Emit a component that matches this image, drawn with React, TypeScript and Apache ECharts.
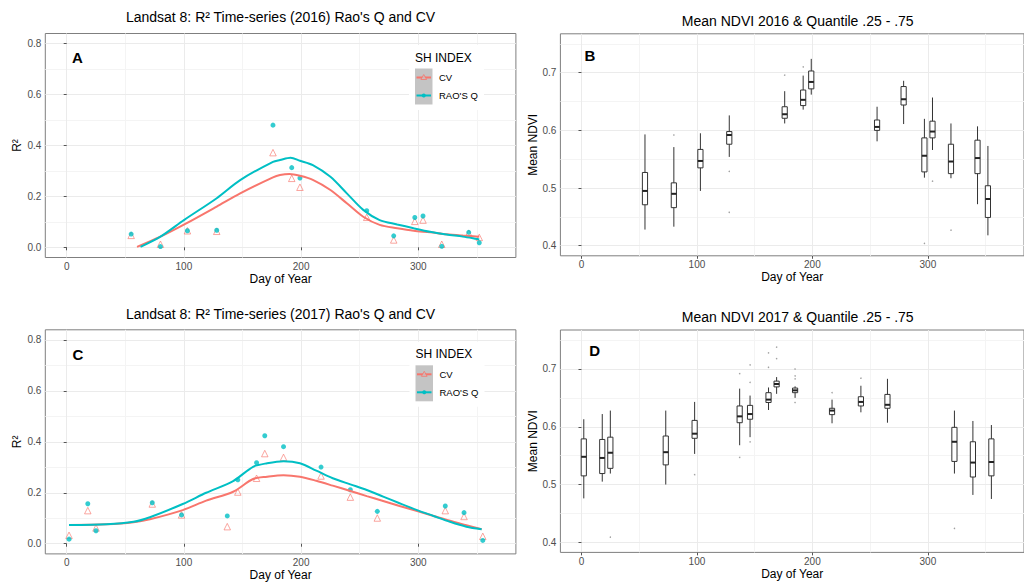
import React, { useEffect, useRef } from "react";
import * as echarts from "echarts";

const FONT = "'Liberation Sans', Arial, sans-serif";
const RED = "#F8766D";
const CYAN = "#00BFC4";

// ---------- Panel A (2016) ----------
const daysA = [55, 80, 103, 128, 176, 192, 199, 256, 279, 297, 304, 320, 343, 352];
const raoA = [0.052, 0.003, 0.065, 0.067, 0.48, 0.313, 0.272, 0.144, 0.045, 0.117, 0.123, 0.004, 0.059, 0.018];
const cvA = [0.047, 0.012, 0.065, 0.063, 0.372, 0.271, 0.236, 0.118, 0.029, 0.102, 0.107, 0.012, 0.055, 0.039];
const smDaysRaoA = [63, 80, 100, 128, 148, 176, 182, 191, 199, 210, 225, 239, 253, 267, 282, 296, 310, 324, 338, 352];
const smRaoA = [0.002, 0.042, 0.107, 0.193, 0.264, 0.336, 0.343, 0.352, 0.34, 0.323, 0.277, 0.212, 0.147, 0.107, 0.09, 0.075, 0.061, 0.05, 0.042, 0.031];
const smDaysCvA = [60, 80, 102, 128, 148, 176, 182, 190, 199, 210, 225, 239, 253, 267, 282, 296, 310, 324, 338, 352];
const smCvA = [0.002, 0.042, 0.094, 0.16, 0.212, 0.275, 0.284, 0.288, 0.281, 0.265, 0.225, 0.173, 0.12, 0.088, 0.075, 0.065, 0.059, 0.051, 0.046, 0.042];

// ---------- Panel C (2017) ----------
const daysC = [2, 18, 25, 73, 98, 137, 146, 162, 169, 185, 217, 242, 265, 323, 339, 355];
const raoC = [0.018, 0.157, 0.051, 0.161, 0.113, 0.109, 0.251, 0.318, 0.424, 0.381, 0.301, 0.212, 0.127, 0.148, 0.122, 0.013];
const cvC = [0.033, 0.13, 0.062, 0.156, 0.113, 0.067, 0.203, 0.257, 0.354, 0.339, 0.266, 0.183, 0.101, 0.13, 0.107, 0.029];
const smDaysC = [2, 34, 57, 71, 99, 119, 142, 159, 171, 185, 199, 213, 227, 242, 256, 270, 284, 299, 313, 327, 341, 354];
const smRaoC = [0.073, 0.076, 0.086, 0.104, 0.156, 0.2, 0.246, 0.302, 0.316, 0.324, 0.316, 0.287, 0.257, 0.233, 0.211, 0.185, 0.159, 0.132, 0.109, 0.086, 0.067, 0.057];
const smCvC = [0.073, 0.076, 0.084, 0.096, 0.132, 0.169, 0.204, 0.254, 0.263, 0.269, 0.263, 0.247, 0.228, 0.207, 0.187, 0.168, 0.148, 0.128, 0.109, 0.09, 0.073, 0.057];

// ---------- Panel B (NDVI 2016) : [day, low, q1, median, q3, high] ----------
const boxesB = [
  [55, 0.428, 0.471, 0.495, 0.527, 0.593],
  [80, 0.433, 0.466, 0.49, 0.509, 0.571],
  [103, 0.495, 0.535, 0.547, 0.567, 0.595],
  [128, 0.554, 0.576, 0.592, 0.598, 0.626],
  [176, 0.612, 0.621, 0.628, 0.641, 0.668],
  [192, 0.636, 0.643, 0.653, 0.67, 0.695],
  [199, 0.662, 0.672, 0.684, 0.703, 0.724],
  [256, 0.581, 0.6, 0.606, 0.618, 0.641],
  [279, 0.611, 0.644, 0.654, 0.676, 0.686],
  [297, 0.518, 0.528, 0.556, 0.587, 0.62],
  [304, 0.566, 0.587, 0.598, 0.616, 0.657],
  [320, 0.517, 0.525, 0.546, 0.576, 0.612],
  [343, 0.472, 0.525, 0.552, 0.583, 0.607],
  [352, 0.418, 0.449, 0.481, 0.504, 0.573],
];
const outliersB = [
  [80, 0.592], [128, 0.529], [128, 0.458], [176, 0.696], [192, 0.71], [297, 0.404], [304, 0.512], [320, 0.427],
];

// ---------- Panel D (NDVI 2017) ----------
const boxesD = [
  [2, 0.476, 0.515, 0.548, 0.579, 0.613],
  [18, 0.505, 0.519, 0.546, 0.578, 0.622],
  [25, 0.519, 0.528, 0.555, 0.582, 0.628],
  [73, 0.5, 0.534, 0.556, 0.584, 0.628],
  [98, 0.553, 0.58, 0.588, 0.611, 0.643],
  [137, 0.568, 0.607, 0.618, 0.636, 0.666],
  [146, 0.582, 0.613, 0.622, 0.637, 0.654],
  [162, 0.629, 0.642, 0.647, 0.659, 0.668],
  [169, 0.657, 0.669, 0.674, 0.679, 0.686],
  [185, 0.65, 0.659, 0.663, 0.667, 0.67],
  [217, 0.606, 0.621, 0.628, 0.632, 0.647],
  [242, 0.625, 0.636, 0.643, 0.652, 0.671],
  [265, 0.607, 0.632, 0.638, 0.656, 0.683],
  [323, 0.519, 0.54, 0.574, 0.599, 0.628],
  [339, 0.482, 0.513, 0.538, 0.574, 0.61],
  [355, 0.475, 0.515, 0.539, 0.579, 0.603],
];
const outliersD = [
  [25, 0.409], [98, 0.517], [137, 0.692], [137, 0.547], [146, 0.707], [146, 0.677], [146, 0.574],
  [162, 0.728], [162, 0.703], [169, 0.738], [169, 0.718], [185, 0.7], [185, 0.688], [185, 0.683],
  [185, 0.642], [217, 0.659], [242, 0.684], [323, 0.424],
];

// ---------- Axes ----------
const xRange = [-18.25, 383.25];
const r2Range = [-0.04, 0.84];
const ndviRange = [0.3825, 0.7675];
const xMajorTicks = [0, 100, 200, 300];
const xMinorTicks = [50, 150, 250, 350];
const r2MajorTicks = [0, 0.2, 0.4, 0.6, 0.8];
const r2MinorTicks = [0.1, 0.3, 0.5, 0.7];
const ndviMajorTicks = [0.4, 0.5, 0.6, 0.7];
const ndviMinorTicks = [0.45, 0.55, 0.65, 0.75];

const titles = [
  "Landsat 8: R² Time-series (2016) Rao's Q and CV",
  "Mean NDVI 2016 & Quantile .25 - .75",
  "Landsat 8: R² Time-series (2017) Rao's Q and CV",
  "Mean NDVI 2017 & Quantile .25 - .75",
];
const panelLetters = ["A", "B", "C", "D"];
const legendTitle = "SH INDEX";
const legendItems = ["CV", "RAO'S Q"];

const zip = (a: number[], b: number[]) => a.map((v, i) => [v, b[i]]);

const grids = [
  { left: 45.3, right: 508.1, top: 33.5, bottom: 327.5 },
  { left: 560.4, right: -10.6, top: 33.8, bottom: 329.2 },
  { left: 45.3, right: 508.1, top: 329.8, bottom: 31.1 },
  { left: 560.4, right: -10.6, top: 330, bottom: 32.6 },
];

const tickCol = "#555";
const labelStyle = { color: "#4D4D4D", fontSize: 10, fontFamily: FONT };

function xAxes(gi: number) {
  return [
    {
      type: "value", gridIndex: gi, min: xRange[0], max: xRange[1], z: 2,
      axisLine: { show: false },
      axisTick: { show: true, length: 3, lineStyle: { color: tickCol }, customValues: xMajorTicks },
      axisLabel: { ...labelStyle, margin: 4, customValues: xMajorTicks },
      splitLine: { show: true, lineStyle: { color: "#EBEBEB", width: 1 } },
      name: "Day of Year", nameLocation: "middle", nameGap: 15.5,
      nameTextStyle: { color: "#000", fontSize: 12, fontFamily: FONT },
    },
    {
      type: "value", gridIndex: gi, min: xRange[0], max: xRange[1], z: 1, position: "bottom",
      axisLine: { show: false },
      axisTick: { show: false, customValues: xMinorTicks },
      axisLabel: { show: false, customValues: xMinorTicks },
      splitLine: { show: true, lineStyle: { color: "#F4F4F4", width: 1 } },
    },
  ];
}

function yAxes(gi: number, range: number[], major: number[], minor: number[], name: string, gap: number, dec: number) {
  return [
    {
      type: "value", gridIndex: gi, min: range[0], max: range[1], z: 2,
      axisLine: { show: false },
      axisTick: { show: true, length: 3, lineStyle: { color: tickCol }, customValues: major },
      axisLabel: { ...labelStyle, margin: 4, customValues: major, formatter: (v: number) => v.toFixed(dec) },
      splitLine: { show: true, lineStyle: { color: "#EBEBEB", width: 1 } },
      name, nameLocation: "middle", nameGap: gap, nameRotate: 90,
      nameTextStyle: { color: "#000", fontSize: 12, fontFamily: FONT },
    },
    {
      type: "value", gridIndex: gi, min: range[0], max: range[1], z: 1, position: "left",
      axisLine: { show: false },
      axisTick: { show: false, customValues: minor },
      axisLabel: { show: false, customValues: minor },
      splitLine: { show: true, lineStyle: { color: "#F4F4F4", width: 1 } },
    },
  ];
}

function boxRender(params: any, api: any) {
  const x = api.value(0);
  const lo = api.coord([x, api.value(1)]);
  const q1 = api.coord([x, api.value(2)]);
  const md = api.coord([x, api.value(3)]);
  const q3 = api.coord([x, api.value(4)]);
  const hi = api.coord([x, api.value(5)]);
  const hw = api.size([4.5, 0])[0] / 2;
  const c = "#333";
  return {
    type: "group",
    children: [
      { type: "line", shape: { x1: lo[0], y1: lo[1], x2: hi[0], y2: hi[1] }, style: { stroke: c, lineWidth: 1 } },
      { type: "rect", shape: { x: q3[0] - hw, y: q3[1], width: hw * 2, height: q1[1] - q3[1] }, style: { fill: "#fff", stroke: c, lineWidth: 1 } },
      { type: "line", shape: { x1: md[0] - hw, y1: md[1], x2: md[0] + hw, y2: md[1] }, style: { stroke: "#222", lineWidth: 2 } },
    ],
  };
}

function r2Series(xi: number, yi: number, days: number[], rao: number[], cv: number[], smRaoD: number[], smRao: number[], smCvD: number[], smCv: number[]) {
  return [
    {
      type: "scatter", xAxisIndex: xi, yAxisIndex: yi, data: zip(days, cv), symbol: "triangle", symbolSize: 6.5, z: 2,
      itemStyle: { color: "rgba(0,0,0,0)", borderColor: RED, borderWidth: 1, opacity: 0.65 },
    },
    {
      type: "scatter", xAxisIndex: xi, yAxisIndex: yi, data: zip(days, rao), symbol: "circle", symbolSize: 5, z: 3,
      itemStyle: { color: CYAN },
    },
    {
      type: "line", xAxisIndex: xi, yAxisIndex: yi, data: zip(smCvD, smCv), smooth: 0.3, showSymbol: false, z: 4,
      lineStyle: { color: RED, width: 2 },
    },
    {
      type: "line", xAxisIndex: xi, yAxisIndex: yi, data: zip(smRaoD, smRao), smooth: 0.3, showSymbol: false, z: 4,
      lineStyle: { color: CYAN, width: 2 },
    },
  ];
}

function boxSeries(xi: number, yi: number, boxes: number[][], outl: number[][]) {
  return [
    {
      type: "custom", xAxisIndex: xi, yAxisIndex: yi, data: boxes, renderItem: boxRender,
      encode: { x: 0, y: [1, 2, 3, 4, 5] }, z: 3,
    },
    {
      type: "scatter", xAxisIndex: xi, yAxisIndex: yi, data: outl, symbolSize: 1.5, z: 3,
      itemStyle: { color: "#888" },
    },
  ];
}

function legendGraphic(dx: number, dy: number) {
  const x0 = 415 + dx;
  const y0 = dy;
  return [
    { type: "rect", shape: { x: x0 - 6, y: y0 + 45, width: 75, height: 65 }, style: { fill: "#fff" }, z: 10 },
    { type: "text", x: x0, y: y0 + 57.5, style: { text: legendTitle, fontSize: 12, fontFamily: FONT, fill: "#000", verticalAlign: "middle" }, z: 11 },
    { type: "rect", shape: { x: x0, y: y0 + 68.5, width: 17.5, height: 36 }, style: { fill: "#C4C4C4" }, z: 11 },
    { type: "line", shape: { x1: x0 + 1.5, y1: y0 + 77.5, x2: x0 + 16, y2: y0 + 77.5 }, style: { stroke: RED, lineWidth: 2 }, z: 12 },
    { type: "polygon", shape: { points: [[x0 + 8.75, y0 + 74.5], [x0 + 11.6, y0 + 79.5], [x0 + 5.9, y0 + 79.5]] }, style: { fill: "#C4C4C4", stroke: RED, lineWidth: 1, opacity: 0.8 }, z: 13 },
    { type: "line", shape: { x1: x0 + 1.5, y1: y0 + 95.5, x2: x0 + 16, y2: y0 + 95.5 }, style: { stroke: CYAN, lineWidth: 2 }, z: 12 },
    { type: "circle", shape: { cx: x0 + 8.75, cy: y0 + 95.5, r: 2 }, style: { fill: CYAN }, z: 13 },
    { type: "text", x: x0 + 24, y: y0 + 77.5, style: { text: legendItems[0], fontSize: 9.5, fontFamily: FONT, fill: "#000", verticalAlign: "middle" }, z: 12 },
    { type: "text", x: x0 + 24, y: y0 + 95.5, style: { text: legendItems[1], fontSize: 9.5, fontFamily: FONT, fill: "#000", verticalAlign: "middle" }, z: 12 },
  ];
}

function titleGraphic(text: string, cx: number, cy: number) {
  return { type: "text", x: cx, y: cy, style: { text, fontSize: 14, fontFamily: FONT, fill: "#000", align: "center", verticalAlign: "middle" }, z: 10 };
}

function letterGraphic(text: string, cx: number, cy: number) {
  return { type: "text", x: cx, y: cy, style: { text, fontSize: 15, fontWeight: "bold", fontFamily: FONT, fill: "#000", align: "center", verticalAlign: "middle" }, z: 10 };
}

export default function App() {
  const ref = useRef<HTMLDivElement>(null);
  useEffect(() => {
    if (!ref.current) return;
    const chart = echarts.init(ref.current, undefined, { renderer: "svg" });
    const option: any = {
      animation: false,
      backgroundColor: "#fff",
      grid: grids.map((g) => ({ ...g, show: true, borderColor: "#7F7F7F", borderWidth: 1, backgroundColor: "#fff", containLabel: false })),
      xAxis: [...xAxes(0), ...xAxes(1), ...xAxes(2), ...xAxes(3)],
      yAxis: [
        ...yAxes(0, r2Range, r2MajorTicks, r2MinorTicks, "R²", 20, 1),
        ...yAxes(1, ndviRange, ndviMajorTicks, ndviMinorTicks, "Mean NDVI", 19, 1),
        ...yAxes(2, r2Range, r2MajorTicks, r2MinorTicks, "R²", 20, 1),
        ...yAxes(3, ndviRange, ndviMajorTicks, ndviMinorTicks, "Mean NDVI", 19, 1),
      ],
      series: [
        ...r2Series(0, 0, daysA, raoA, cvA, smDaysRaoA, smRaoA, smDaysCvA, smCvA),
        ...boxSeries(2, 2, boxesB, outliersB),
        ...r2Series(4, 4, daysC, raoC, cvC, smDaysC, smRaoC, smDaysC, smCvC),
        ...boxSeries(6, 6, boxesD, outliersD),
      ],
      graphic: [
        titleGraphic(titles[0], 280.5, 17.3),
        titleGraphic(titles[1], 797.7, 21),
        titleGraphic(titles[2], 280.5, 314),
        titleGraphic(titles[3], 797.7, 317),
        letterGraphic(panelLetters[0], 77.5, 57),
        letterGraphic(panelLetters[1], 590, 55),
        letterGraphic(panelLetters[2], 78, 354.3),
        letterGraphic(panelLetters[3], 594.7, 350),
        ...legendGraphic(0, 0),
        ...legendGraphic(0.5, 296.8),
      ],
    };
    chart.setOption(option);
    return () => chart.dispose();
  }, []);
  return (
    <div
      ref={ref}
      style={{ position: "fixed", left: 0, top: 0, width: 1024, height: 585, background: "#fff" }}
    />
  );
}
